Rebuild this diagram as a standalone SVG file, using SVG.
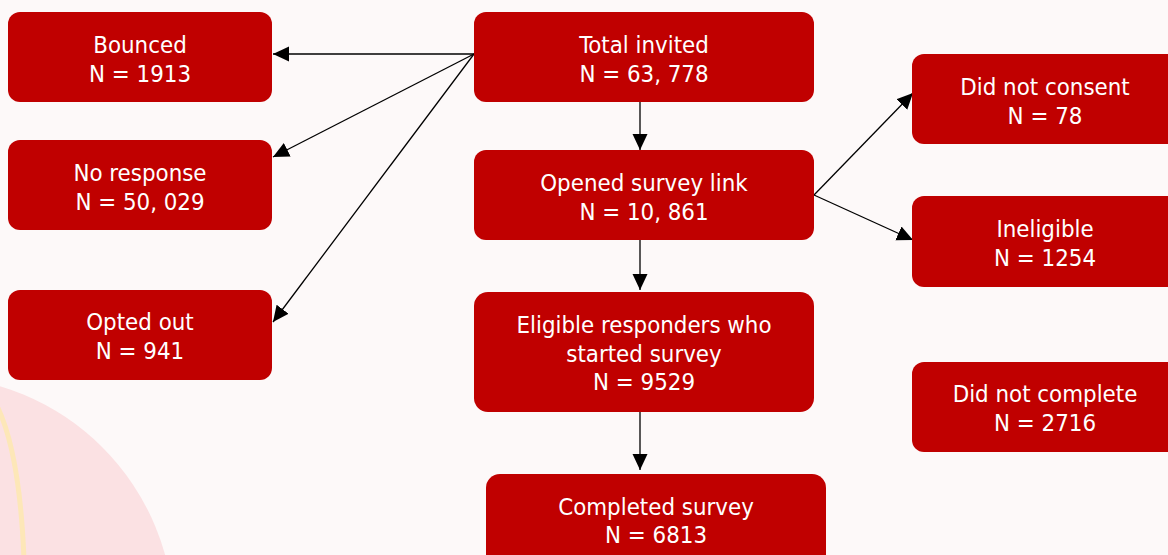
<svg xmlns="http://www.w3.org/2000/svg" width="1168" height="555" viewBox="0 0 1168 555">
<style>
.box{fill:#c00000;}
.t{font-family:"DejaVu Sans Condensed","DejaVu Sans",sans-serif;font-size:23.8px;fill:#ffffff;text-anchor:middle;}
.c{stroke:#000;stroke-width:1.3;fill:none;marker-end:url(#ah);}
</style>
<defs>
<marker id="ah" markerUnits="userSpaceOnUse" markerWidth="16" markerHeight="16" refX="16" refY="8" orient="auto" viewBox="0 0 16 16">
<path d="M0,0.5 L16,8 L0,15.5 z" fill="#000"/>
</marker>
</defs>
<rect x="0" y="0" width="1168" height="555" fill="#fdf9f9"/>
<circle cx="-70" cy="620" r="244" fill="#fbe1e3"/>
<path d="M-2,408 Q20,455 24,560" stroke="#fde7b8" stroke-width="5" fill="none"/>
<g id="connectors">
<line class="c" x1="474" y1="54" x2="273" y2="54"/>
<line class="c" x1="474" y1="54" x2="273" y2="157"/>
<line class="c" x1="474" y1="54" x2="273" y2="322"/>
<line class="c" x1="814" y1="195" x2="913" y2="93"/>
<line class="c" x1="814" y1="195" x2="913" y2="240"/>
<line class="c" x1="640" y1="102" x2="640" y2="150"/>
<line class="c" x1="640" y1="240" x2="640" y2="290"/>
<line class="c" x1="640" y1="412" x2="640" y2="470"/>
</g>
<g id="bounced"><rect class="box" x="8" y="12" width="264" height="90" rx="12"/><text class="t" x="140" y="53">Bounced</text><text class="t" x="140" y="81.5">N = 1913</text></g>
<g id="noresponse"><rect class="box" x="8" y="140" width="264" height="90" rx="12"/><text class="t" x="140" y="181">No response</text><text class="t" x="140" y="210">N = 50, 029</text></g>
<g id="optedout"><rect class="box" x="8" y="290" width="264" height="90" rx="12"/><text class="t" x="140" y="330">Opted out</text><text class="t" x="140" y="359">N = 941</text></g>
<g id="total"><rect class="box" x="474" y="12" width="340" height="90" rx="12"/><text class="t" x="644" y="53">Total invited</text><text class="t" x="644" y="81.5">N = 63, 778</text></g>
<g id="opened"><rect class="box" x="474" y="150" width="340" height="90" rx="12"/><text class="t" x="644" y="191">Opened survey link</text><text class="t" x="644" y="220">N = 10, 861</text></g>
<g id="eligible"><rect class="box" x="474" y="292" width="340" height="120" rx="14"/><text class="t" x="644" y="333">Eligible responders who</text><text class="t" x="644" y="362">started survey</text><text class="t" x="644" y="390">N = 9529</text></g>
<g id="completed"><rect class="box" x="486" y="474" width="340" height="100" rx="14"/><text class="t" x="656" y="515">Completed survey</text><text class="t" x="656" y="543">N = 6813</text></g>
<g id="noconsent"><rect class="box" x="912" y="54" width="268" height="90" rx="12"/><text class="t" x="1045" y="95">Did not consent</text><text class="t" x="1045" y="123.5">N = 78</text></g>
<g id="ineligible"><rect class="box" x="912" y="196" width="268" height="91" rx="12"/><text class="t" x="1045" y="237">Ineligible</text><text class="t" x="1045" y="266">N = 1254</text></g>
<g id="notcomplete"><rect class="box" x="912" y="362" width="268" height="90" rx="12"/><text class="t" x="1045" y="402">Did not complete</text><text class="t" x="1045" y="431">N = 2716</text></g>
</svg>
